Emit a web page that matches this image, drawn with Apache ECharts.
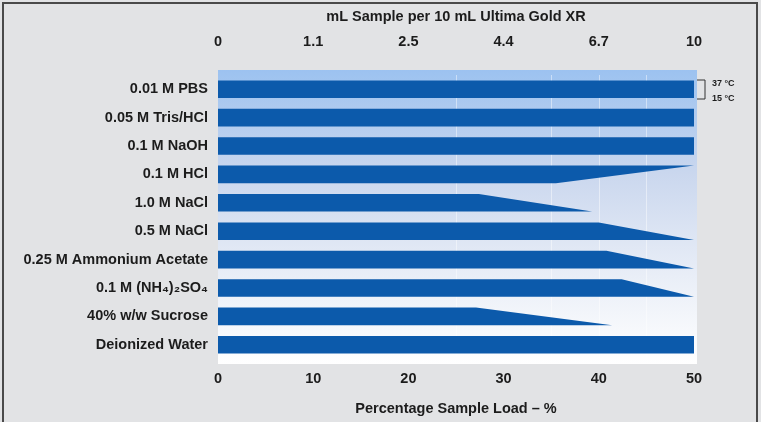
<!DOCTYPE html>
<html><head><meta charset="utf-8">
<script src="https://cdn.jsdelivr.net/npm/echarts@6/dist/echarts.min.js"></script>
<style>html,body{margin:0;padding:0;background:#e2e3e5}#c{width:761px;height:422px}</style>
</head><body><div id="c"></div>
<script>
var categories = ['0.01 M PBS','0.05 M Tris/HCl','0.1 M NaOH','0.1 M HCl','1.0 M NaCl','0.5 M NaCl','0.25 M Ammonium Acetate','0.1 M (NH\u2084)\u2082SO\u2084','40% w/w Sucrose','Deionized Water'];
var load37 = [50,50,50,50,27.4,40.0,40.8,42.4,27.1,50];
var load15 = [50,50,50,35.5,39.3,50,50,50,41.4,50];
var bottomTicks = ['0','10','20','30','40','50'];
var topTicks = ['0','1.1','2.5','4.4','6.7','10'];
var guideLines = [25,35,40,45];

var chart = echarts.init(document.getElementById('c'), null, {renderer:'canvas'});
var FONT = 'Liberation Sans';
var FS = 14.5;
var TXT = '#1c1c1c';
var data = categories.map(function(c,i){ return [i, load37[i], load15[i]]; });

chart.setOption({
  backgroundColor:'#e2e3e5',
  animation:false,
  graphic:[
    {type:'rect', z:-10, shape:{x:3,y:3,width:754,height:424}, style:{fill:'#e2e3e5', stroke:'#4a4a4a', lineWidth:2}},
    {type:'rect', z:-5, shape:{x:218,y:70,width:479,height:294},
      style:{fill:new echarts.graphic.LinearGradient(0,0,0,1,[
        {offset:0,color:'#9cc2f0'},{offset:0.35,color:'#cad7ee'},{offset:0.7,color:'#e9eef7'},{offset:1,color:'#ffffff'}])}},
    {type:'polyline', z:10, shape:{points:[[697,80],[705,80],[705,99],[697,99]]}, style:{stroke:'#333',lineWidth:1,fill:null}},
    {type:'text', z:10, style:{x:712,y:84,text:'37 \u00b0C',font:'bold 9px '+FONT,fill:TXT,textVerticalAlign:'middle'}},
    {type:'text', z:10, style:{x:712,y:99,text:'15 \u00b0C',font:'bold 9px '+FONT,fill:TXT,textVerticalAlign:'middle'}}
  ],
  grid:{left:218, right:67, top:75, bottom:63, containLabel:false, outerBoundsMode:'none'},
  xAxis:[
    {type:'value', position:'bottom', min:0, max:50, interval:10,
     axisLine:{show:false}, axisTick:{show:false}, splitLine:{show:false},
     axisLabel:{margin:12, color:TXT, fontFamily:FONT, fontWeight:'bold', fontSize:FS,
       formatter:function(v){ return bottomTicks[Math.round(v/10)]; }},
     name:'Percentage Sample Load \u2013 %', nameLocation:'middle', nameGap:42,
     nameTextStyle:{color:TXT, fontFamily:FONT, fontWeight:'bold', fontSize:FS}},
    {type:'value', position:'top', min:0, max:50, interval:10,
     axisLine:{show:false}, axisTick:{show:false}, splitLine:{show:false},
     axisLabel:{margin:26, color:TXT, fontFamily:FONT, fontWeight:'bold', fontSize:FS,
       formatter:function(v){ return topTicks[Math.round(v/10)]; }},
     name:'mL Sample per 10 mL Ultima Gold XR', nameLocation:'middle', nameGap:51,
     nameTextStyle:{color:TXT, fontFamily:FONT, fontWeight:'bold', fontSize:FS}}
  ],
  yAxis:{type:'category', data:categories, inverse:true,
    axisLine:{show:false}, axisTick:{show:false}, splitLine:{show:false},
    axisLabel:{margin:10, color:TXT, fontFamily:FONT, fontWeight:'bold', fontSize:FS}},
  series:[{
    type:'custom', xAxisIndex:0,
    data:data,
    encode:{x:[1,2], y:0},
    renderItem:function(params, api){
      var i = api.value(0);
      var p0 = api.coord([0, i]);
      var pa = api.coord([api.value(1), i]);
      var pb = api.coord([api.value(2), i]);
      var h = api.size([0,1])[1]*0.62;
      var t = p0[1]-h/2, b = p0[1]+h/2;
      return {type:'polygon', shape:{points:[[p0[0],t],[pa[0],t],[pb[0],b],[p0[0],b]]}, style:{fill:'#0c5aab'}};
    },
    markLine:{silent:true, symbol:'none', label:{show:false}, z:1,
      lineStyle:{color:'rgba(255,255,255,0.45)', type:'solid', width:1},
      data:guideLines.map(function(v){ return {xAxis:v}; })}
  }]
});
</script></body></html>
